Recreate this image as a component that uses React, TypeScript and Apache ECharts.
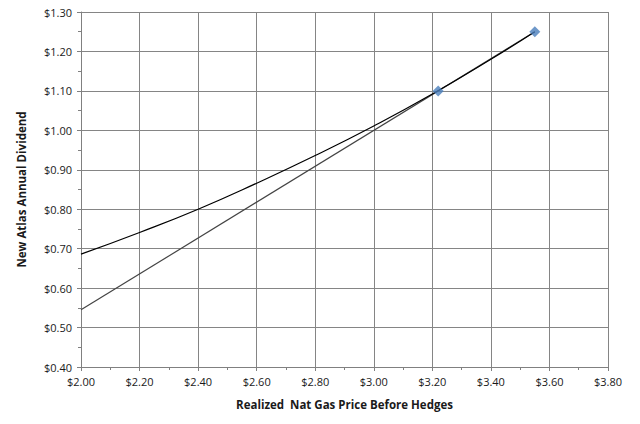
import React, { useEffect, useRef } from "react";
import * as echarts from "echarts";

const scatterX = [3.22, 3.55];
const scatterY = [1.1, 1.25];

const curveX = [2.0, 2.2, 2.4, 2.6, 2.8, 3.0, 3.2, 3.4, 3.55];
const curveY = [0.686, 0.741, 0.8, 0.866, 0.936, 1.011, 1.092, 1.18, 1.25];

const linearX = [2.0, 3.55];
const linearY = [0.545, 1.25];

const xTitle = "Realized  Nat Gas Price Before Hedges";
const yTitle = "New Atlas Annual Dividend";

const zip = (xs: number[], ys: number[]) => xs.map((x, i) => [x, ys[i]]);

export default function App() {
  const ref = useRef<HTMLDivElement>(null);
  useEffect(() => {
    if (!ref.current) return;
    const chart = echarts.init(ref.current, null, { renderer: "svg" });
    const font = "'Open Sans', 'Liberation Sans', sans-serif";
    const fmt = (v: number) => "$" + v.toFixed(2);
    chart.setOption({
      animation: false,
      backgroundColor: "#ffffff",
      grid: { left: 81, right: 32, top: 12, bottom: 57, containLabel: false },
      xAxis: {
        type: "value",
        min: 2.0,
        max: 3.8,
        interval: 0.2,
        name: xTitle,
        nameLocation: "middle",
        nameGap: 31,
        nameTextStyle: { fontFamily: font, fontSize: 11.5, fontWeight: "bold", color: "#1a1a1a" },
        axisLine: { show: true, lineStyle: { color: "#808080", width: 1 } },
        axisTick: { show: true, length: 4, lineStyle: { color: "#808080" } },
        minorTick: { show: true, splitNumber: 2, length: 3, lineStyle: { color: "#808080" } },
        axisLabel: { formatter: fmt, fontFamily: font, fontSize: 11, color: "#1a1a1a", margin: 9 },
        splitLine: { show: true, lineStyle: { color: "#858585", width: 1 } },
      },
      yAxis: {
        type: "value",
        min: 0.4,
        max: 1.3,
        interval: 0.1,
        name: yTitle,
        nameLocation: "middle",
        nameGap: 54,
        nameRotate: 90,
        nameTextStyle: { fontFamily: font, fontSize: 11.5, fontWeight: "bold", color: "#1a1a1a" },
        axisLine: { show: true, lineStyle: { color: "#808080", width: 1 } },
        axisTick: { show: true, length: 4, lineStyle: { color: "#808080" } },
        minorTick: { show: true, splitNumber: 2, length: 3, lineStyle: { color: "#808080" } },
        axisLabel: { formatter: fmt, fontFamily: font, fontSize: 11, color: "#1a1a1a", margin: 9 },
        splitLine: { show: true, lineStyle: { color: "#858585", width: 1 } },
      },
      series: [
        {
          type: "line",
          data: zip(linearX, linearY),
          showSymbol: false,
          lineStyle: { color: "#444444", width: 1.2 },
          z: 2,
        },
        {
          type: "line",
          data: zip(curveX, curveY),
          smooth: true,
          showSymbol: false,
          lineStyle: { color: "#000000", width: 1.2 },
          z: 3,
        },
        {
          type: "scatter",
          data: zip(scatterX, scatterY),
          symbol: "diamond",
          symbolSize: 11,
          itemStyle: { color: "#4a7ebb" },
          z: 4,
        },
      ],
    });
    return () => chart.dispose();
  }, []);
  return (
    <div
      ref={ref}
      style={{ position: "fixed", left: 0, top: 0, width: 640, height: 424, background: "#fff" }}
    />
  );
}
